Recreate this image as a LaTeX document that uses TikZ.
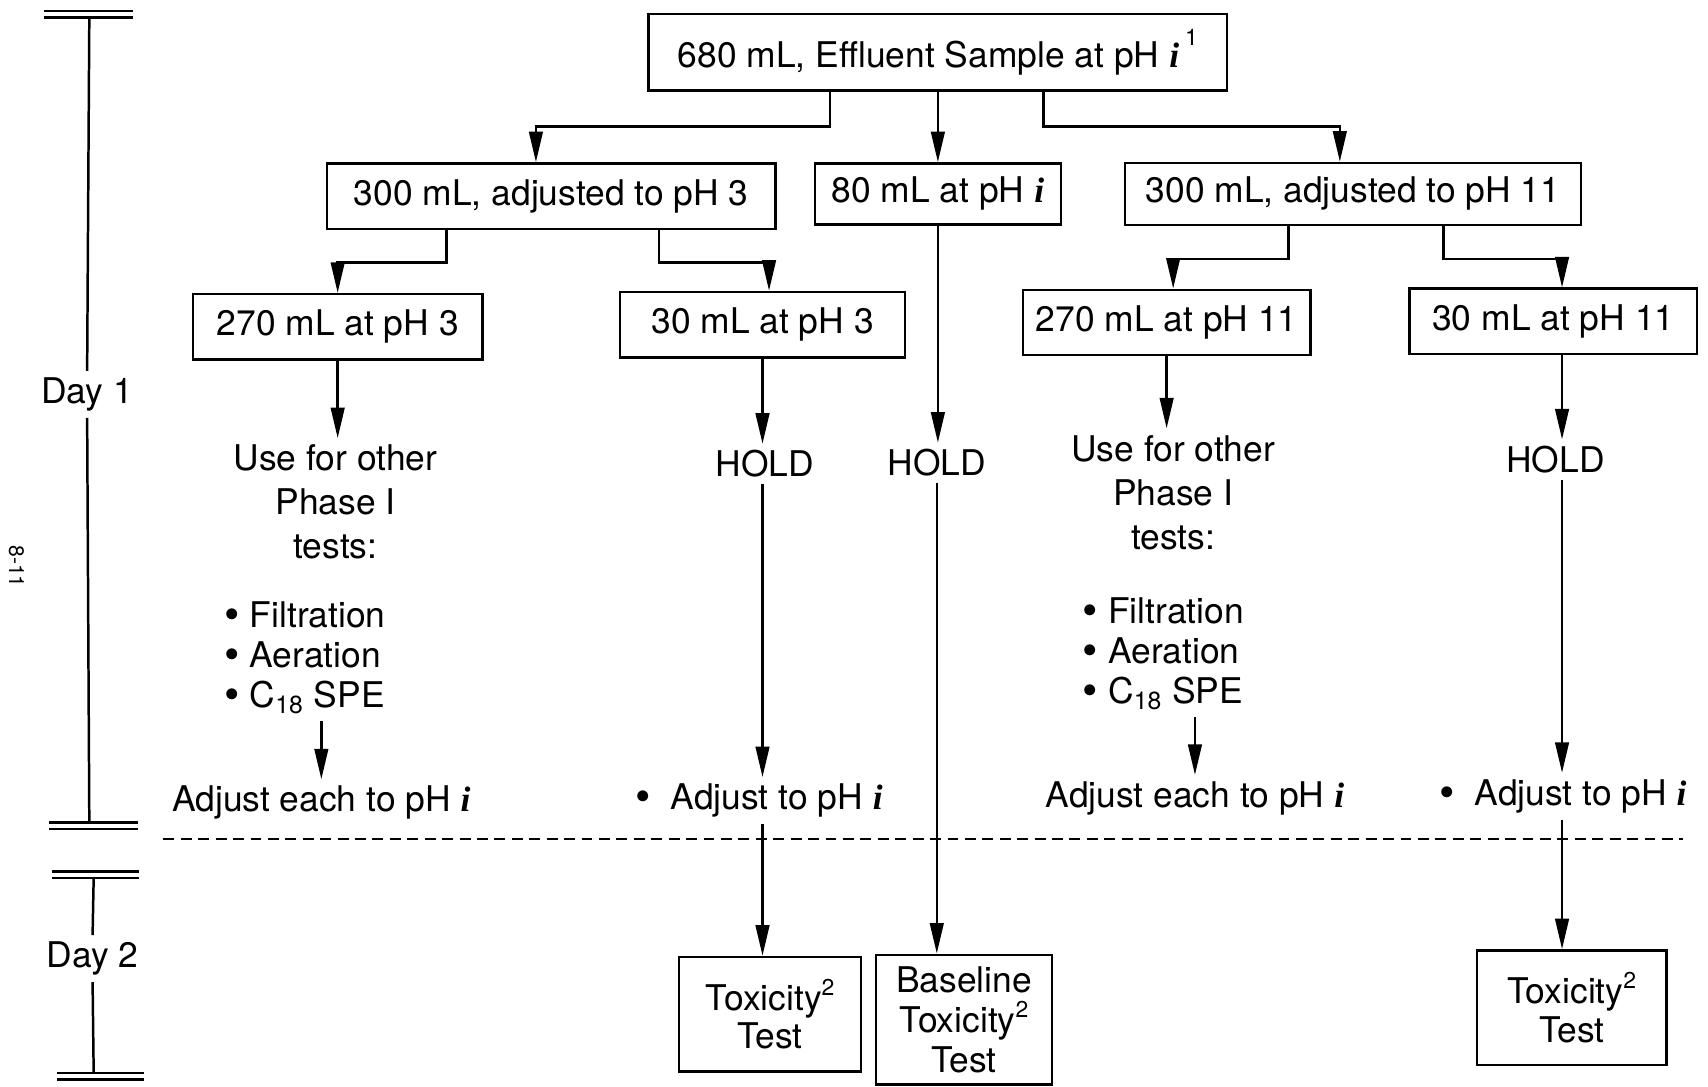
\documentclass[tikz,border=0pt]{standalone}
\usepackage{fontspec}
\setmainfont{TeX Gyre Heros}
\newfontfamily\serifi{Liberation Serif}
\usetikzlibrary{arrows.meta}
\newcommand{\pHi}{{\serifi\bfseries\itshape i}}
\newcommand{\fnote}[1]{\raisebox{0.8ex}{\fontsize{12}{12}\selectfont #1}}
\newcommand{\bdot}{\raisebox{-0.06em}[0.5em][0pt]{\fontsize{23}{20}\selectfont\textbullet}}

\begin{document}
\begin{tikzpicture}[x=0.02cm, y=-0.02cm, >={Triangle[length=5.6mm,width=2.5mm]},
    every node/.style={font=\fontsize{18.5}{23}\selectfont},
    box/.style={draw, line width=1.3pt, inner sep=2pt},
    arr/.style={->, line width=1.3pt},
    bar/.style={line width=1.3pt}]
  \useasboundingbox (0,0) rectangle (1568,997);

  % Sample boxes
  \node[box, minimum width=10.62cm, minimum height=1.4cm] (top) at (861,48) {680 mL, Effluent Sample at pH \pHi\,\raisebox{0.4ex}{\fnote{1}}};
  \node[box, minimum width=8.24cm, minimum height=1.2cm] (adj3) at (506,180) {300 mL, adjusted to pH 3};
  \node[box, minimum width=4.52cm, minimum height=1.12cm] (base80) at (861,178) {80 mL at pH \pHi};
  \node[box, minimum width=8.38cm, minimum height=1.14cm] (adj11) at (1242,178) {300 mL, adjusted to pH 11};
  \node[box, minimum width=5.32cm, minimum height=1.2cm] (big3) at (310,300) {270 mL at pH 3};
  \node[box, minimum width=5.24cm, minimum height=1.2cm] (small3) at (700,298) {30 mL at pH 3};
  \node[box, minimum width=5.28cm, minimum height=1.2cm] (big11) at (1071,296) {270 mL at pH 11};
  \node[box, minimum width=5.28cm, minimum height=1.2cm] (small11) at (1426,295) {30 mL at pH 11};
  \coordinate (gcol) at ([xshift=0.16cm]small11.south);

  % Day 1 texts
  \node[align=center] (use3) at (308,461) {Use for other\\Phase I\\tests:};
  \node[align=left, anchor=west, font=\fontsize{18.5}{21}\selectfont] (list3) at (200,604)
    {\bdot\ Filtration\\\bdot\ Aeration\\\bdot\ C\textsubscript{18} SPE};
  \node (adjeach3) at (295,737) {Adjust each to pH \pHi};
  \node (hold3) at (702,426) {HOLD};
  \node (adjto3) at (697,735) {\bdot\ \ Adjust to pH \pHi};
  \node (hold80) at (860,425) {HOLD};
  \node[align=center] (use11) at (1077,452) {Use for other\\Phase I\\tests:};
  \node[align=left, anchor=west, font=\fontsize{18.5}{21}\selectfont] (list11) at (988,600)
    {\bdot\ Filtration\\\bdot\ Aeration\\\bdot\ C\textsubscript{18} SPE};
  \node (adjeach11) at (1097,733) {Adjust each to pH \pHi};
  \node (hold11) at (1428,422) {HOLD};
  \node (adjto11) at (1435,731) {\bdot\ \ Adjust to pH \pHi};

  % Day 2 boxes
  \node[box, minimum width=3.34cm, minimum height=2.1cm, align=center, font=\fontsize{18.5}{20}\selectfont] (tox3) at (707,931) {Toxicity\fnote{2}\\Test};
  \node[box, minimum width=3.24cm, minimum height=2.38cm, align=center, font=\fontsize{18.5}{21}\selectfont] (basetox) at (885,936) {Baseline\\Toxicity\fnote{2}\\Test};
  \node[box, minimum width=3.48cm, minimum height=2.1cm, align=center, font=\fontsize{18.5}{20}\selectfont] (tox11) at (1443,925) {Toxicity\fnote{2}\\Test};

  % Splits
  \draw[arr] ([xshift=-1.98cm]top.south) -- ++(0,32) -| ([xshift=-0.28cm]adj3.north);
  \draw[arr] (top) -- (base80);
  \draw[arr] ([xshift=1.94cm]top.south) -- ++(0,32) -| ([xshift=-0.24cm]adj11.north);
  \draw[arr] ([xshift=-1.92cm]adj3.south) -- ++(0,30) -| (big3.north);
  \draw[arr] ([xshift=1.98cm]adj3.south) -- ++(0,30) -| ([xshift=0.12cm]small3.north);
  \draw[arr] ([xshift=-1.18cm]adj11.south) -- ++(0,30) -| ([xshift=0.12cm]big11.north);
  \draw[arr] ([xshift=1.66cm]adj11.south) -- ++(0,30) -| (gcol |- small11.north);

  % Columns
  \draw[arr] (big3.south) -- (big3.south |- use3.north);
  \draw[arr] (list3.south -| adjeach3.north) -- (adjeach3.north);
  \draw[arr] (small3.south) -- (small3.south |- hold3.north);
  \draw[arr] (hold3.south -| small3.south) -- (small3.south |- adjto3.north);
  \draw[arr] (adjto3.south -| small3.south) -- (small3.south |- tox3.north);
  \draw[arr] (base80.south) -- (base80.south |- hold80.north);
  \draw[arr] (hold80.south) -- (hold80.south |- basetox.north);
  \draw[arr] (big11.south) -- (big11.south |- use11.north);
  \draw[arr] (list11.south -| adjeach11.north) -- (adjeach11.north);
  \draw[arr] (gcol) -- (gcol |- hold11.north);
  \draw[arr] (hold11.south -| gcol) -- (gcol |- adjto11.north);
  \draw[arr] (adjto11.south -| gcol) -- (gcol |- tox11.north);

  % Day line
  \draw[line width=1.3pt, dash pattern=on 0.2cm off 0.12cm] (150,770) -- (1545,770);

  % Time scale
  \node (day1) at (80,362) {Day 1};
  \node (day2) at (85,880) {Day 2};
  \draw[bar] (40,10) -- (122,10) (40,16) -- (122,16);
  \draw[bar] (82,16) -- (day1.north);
  \draw[bar] (day1.south) -- (82,755);
  \draw[bar] (45,755) -- (127,755) (45,761) -- (127,761);
  \draw[bar] (48,800) -- (128,800) (48,806) -- (128,806);
  \draw[bar] (86,806) -- (day2.north);
  \draw[bar] (day2.south) -- (86,985);
  \draw[bar] (52,985) -- (132,985) (52,991) -- (132,991);

  % Page number
  \node[rotate=-90, font=\fontsize{11}{11}\selectfont] (page) at (15,520) {8-11};
\end{tikzpicture}
\end{document}
